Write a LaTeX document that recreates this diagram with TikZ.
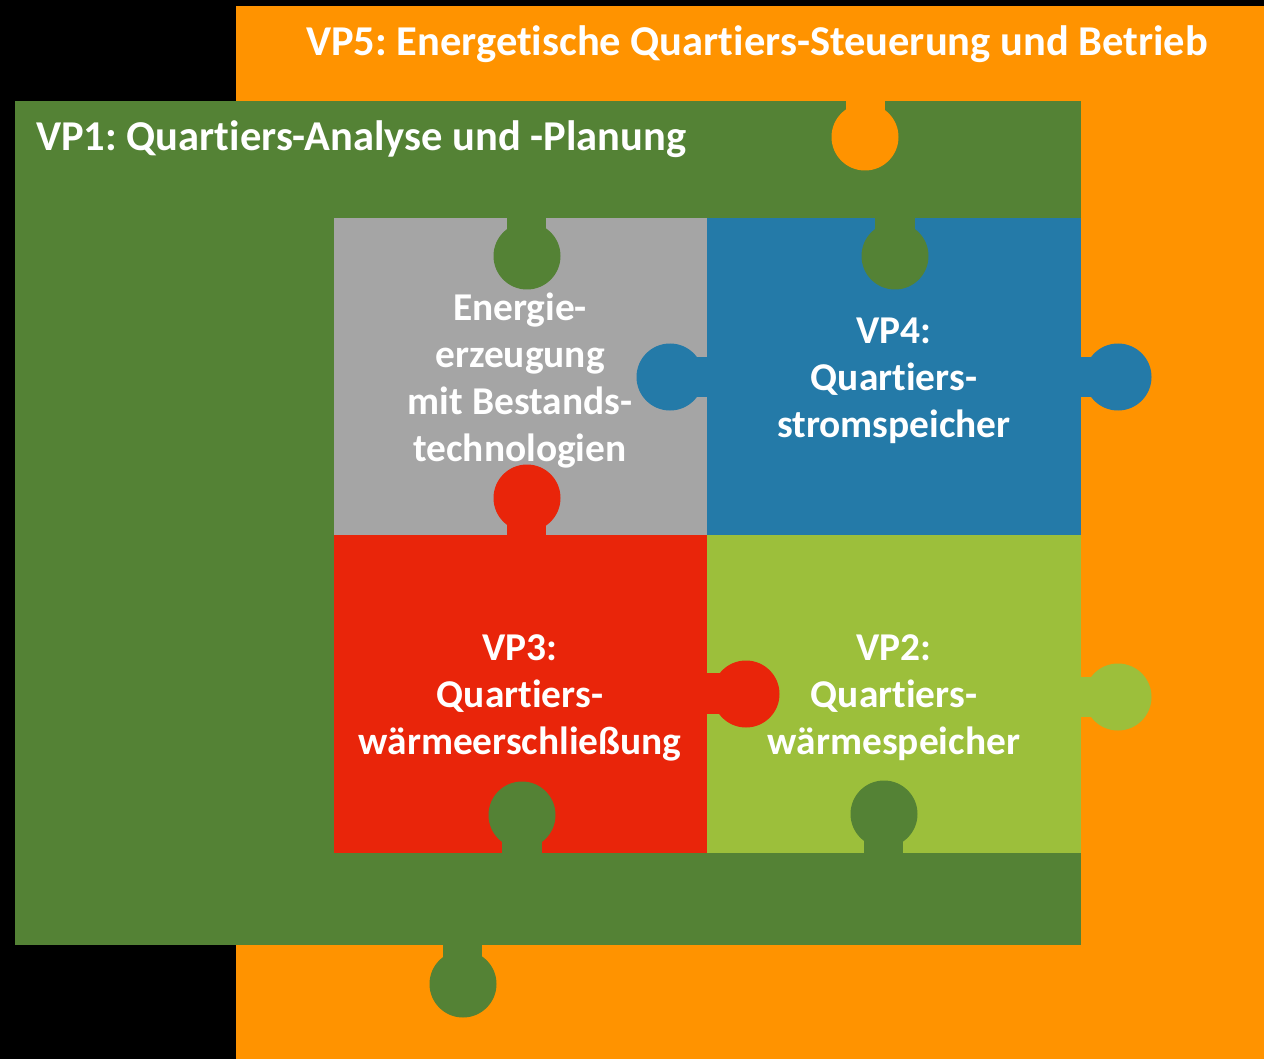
\documentclass[tikz,border=0pt]{standalone}
\usepackage{fontspec}
\setmainfont{Carlito}[Ligatures=CommonOff]
\frenchspacing
\definecolor{cOrange}{HTML}{FF9300}
\definecolor{cDkGreen}{HTML}{548235}
\definecolor{cGray}{HTML}{A5A5A5}
\definecolor{cBlue}{HTML}{247AA8}
\definecolor{cRed}{HTML}{E9250A}
\definecolor{cLtGreen}{HTML}{9CBF3B}
\newcommand\pzknob[4]{% color, neck corner1, neck corner2, circle centre
  \fill[#1] #2 rectangle #3;
  \fill[#1] #4 circle[radius=33.5pt];}
\tikzset{
  title/.style={text=white, font=\bfseries\fontsize{42.5}{50}\selectfont, anchor=base west, inner sep=0pt},
  tiletext/.style={text=white, font=\bfseries\fontsize{39.4}{47}\selectfont, align=center, inner sep=0pt}
}
\begin{document}
\begin{tikzpicture}[x=1pt,y=-1pt]
\useasboundingbox (0,0) rectangle (1264,1059);
\fill[black] (0,0) rectangle (1264,1059);
% VP5 orange
\fill[cOrange] (236,6) rectangle (1264,1059);
% VP1 green
\fill[cDkGreen] (15,101) rectangle (1081,945);
% tiles
\fill[cGray] (334,218) rectangle (707,535);
\fill[cBlue] (707,218) rectangle (1081,535);
\fill[cRed] (334,535) rectangle (707,853);
\fill[cLtGreen] (707,535) rectangle (1081,853);
% knobs
\pzknob{cOrange}{(846,100)}{(885,137)}{(865,137)}
\pzknob{cDkGreen}{(507,217)}{(546,256)}{(527,256)}
\pzknob{cDkGreen}{(875,217)}{(915,256)}{(895,256)}
\pzknob{cBlue}{(670,357)}{(708,397)}{(670,377)}
\pzknob{cBlue}{(1080,357)}{(1118,397)}{(1118,377)}
\pzknob{cRed}{(507,498)}{(546,536)}{(527,498)}
\pzknob{cRed}{(706,673)}{(746,714)}{(746,694)}
\pzknob{cLtGreen}{(1080,677)}{(1118,717)}{(1118,697)}
\pzknob{cDkGreen}{(502,815)}{(542,854)}{(522,815)}
\pzknob{cDkGreen}{(864,814)}{(903,854)}{(884,814)}
\pzknob{cDkGreen}{(443,944)}{(482,984)}{(463,984)}
% texts
\node[title] (vp5) at (306,56) {VP5: Energetische Quartiers-Steuerung und Betrieb};
\node[title] (vp1) at (36,151) {VP1: Quartiers-Analyse und -Planung};
\node[tiletext] (ez) at (520,381) {Energie-\\erzeugung\\mit Bestands-\\technologien};
\node[tiletext] (vp4) at (894,381) {VP4:\\Quartiers-\\stromspeicher};
\node[tiletext] (vp3) at (520,698) {VP3:\\Quartiers-\\wärmeerschließung};
\node[tiletext] (vp2) at (894,698) {VP2:\\Quartiers-\\wärmespeicher};
\end{tikzpicture}
\end{document}
